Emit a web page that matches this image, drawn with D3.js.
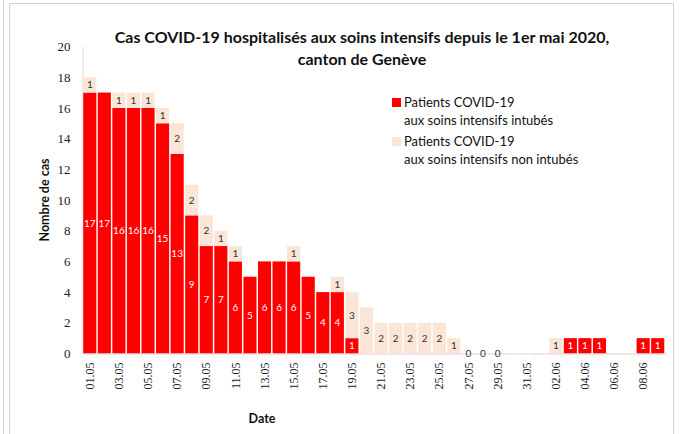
<!DOCTYPE html>
<html>
<head>
<meta charset="utf-8">
<script src="https://cdn.jsdelivr.net/npm/d3@7"></script>
<style>
  body { margin: 0; background: #fff; }
  svg { display: block; }
  .sans { font-family: Lato, "Open Sans", sans-serif; }
  .serif { font-family: "Liberation Serif", "DejaVu Serif", serif; }
</style>
</head>
<body>
<div id="chart"></div>
<script>
const width = 680;
const height = 434;

// Données (01.05 -> 09.06)
const dates = ["01.05","02.05","03.05","04.05","05.05","06.05","07.05","08.05","09.05","10.05",
  "11.05","12.05","13.05","14.05","15.05","16.05","17.05","18.05","19.05","20.05",
  "21.05","22.05","23.05","24.05","25.05","26.05","27.05","28.05","29.05","30.05",
  "31.05","01.06","02.06","03.06","04.06","05.06","06.06","07.06","08.06","09.06"];
const intubes = [17,17,16,16,16,15,13,9,7,7, 6,5,6,6,6,5,4,4,1,0, 0,0,0,0,0,0,0,0,0,0, 0,null,0,1,1,1,null,null,1,1];
const nonIntubes = [1,null,1,1,1,1,2,2,2,1, 1,null,null,null,1,null,null,1,3,3, 2,2,2,2,2,1,0,0,0,null, null,null,1,null,null,null,null,null,null,null];
const yTicks = [0,2,4,6,8,10,12,14,16,18,20];
const tickDates = dates.filter((d, i) => i % 2 === 0);
const legendLabels = [
  ["Patients COVID-19", "aux soins intensifs intubés"],
  ["Patients COVID-19", "aux soins intensifs non intubés"]
];

const RED = "#ff0000";
const PALE = "#fbe5d6";

const svg = d3.select("#chart").append("svg")
  .attr("width", width).attr("height", height);

// cadre
svg.append("line").attr("x1", 3.5).attr("x2", 3.5).attr("y1", 0).attr("y2", height)
  .attr("stroke", "#d0d0d0");
svg.append("path").attr("d", `M9.5,${height} V3.5 H673.5 V${height}`)
  .attr("fill", "none").attr("stroke", "#d0d0d0");

const x = d3.scaleBand().domain(dates).range([82.5, 665]).paddingInner(0.1).paddingOuter(0.05);
const y = d3.scaleLinear().domain([0, 20]).range([353.5, 46.5]);

// axe Y
const yAxis = svg.append("g").attr("transform", "translate(82.5,0)")
  .call(d3.axisLeft(y).tickValues(yTicks).tickSize(0).tickPadding(12));
yAxis.select(".domain").attr("stroke", "#d9d9d9");
yAxis.selectAll("text").attr("class", "serif").style("font-size", "13px").attr("fill", "#222");

// barres
const rows = dates.map((d, i) => ({ date: d, a: intubes[i], b: nonIntubes[i] }));

svg.append("g").selectAll("rect").data(rows.filter(r => r.a)).join("rect")
  .attr("x", r => x(r.date)).attr("width", x.bandwidth())
  .attr("y", r => y(r.a)).attr("height", r => y(0) - y(r.a))
  .attr("fill", RED);

svg.append("g").selectAll("rect").data(rows.filter(r => r.b)).join("rect")
  .attr("x", r => x(r.date)).attr("width", x.bandwidth())
  .attr("y", r => y((r.a || 0) + r.b)).attr("height", r => y(0) - y(r.b))
  .attr("fill", PALE);

// axe X
const xAxis = svg.append("g").attr("transform", "translate(0,353.5)")
  .call(d3.axisBottom(x).tickValues(tickDates).tickSize(0).tickPadding(0));
xAxis.select(".domain").attr("stroke", "#e6d0d0").attr("d", "M82.5,0.5H667");
xAxis.selectAll("text")
  .attr("class", "serif").style("font-size", "12px").attr("fill", "#222")
  .attr("text-anchor", "end")
  .attr("transform", "rotate(-90)")
  .attr("x", -9).attr("y", 0).attr("dy", "0.35em");

// étiquettes des valeurs (les 0 blancs sous une barre claire sont masqués)
const cx = r => x(r.date) + x.bandwidth() / 2;
svg.append("g").selectAll("text").data(rows.filter(r => r.a !== null && (r.a > 0 || r.b === null))).join("text")
  .attr("class", "sans")
  .attr("x", cx).attr("y", r => y(r.a / 2)).attr("dy", "0.35em")
  .attr("text-anchor", "middle").style("font-size", "10px").attr("fill", "#fff")
  .text(r => r.a);

svg.append("g").selectAll("text").data(rows.filter(r => r.b !== null)).join("text")
  .attr("class", "sans")
  .attr("x", cx).attr("y", r => y((r.a || 0) + r.b / 2)).attr("dy", "0.35em")
  .attr("text-anchor", "middle").style("font-size", "10px").attr("fill", "#333")
  .text(r => r.b);

// titre
const title = svg.append("text").attr("class", "sans")
  .attr("text-anchor", "middle")
  .style("font-size", "16px").style("font-weight", "bold").attr("fill", "#111");
title.append("tspan").attr("x", 362).attr("y", 43).text("Cas COVID-19 hospitalisés aux soins intensifs depuis le 1er mai 2020,");
title.append("tspan").attr("x", 362).attr("y", 65).text("canton de Genève");

// titres des axes
svg.append("text").attr("class", "sans")
  .attr("transform", "translate(49,200) rotate(-90)")
  .attr("text-anchor", "middle").style("font-size", "12.5px").style("font-weight", "bold")
  .attr("fill", "#111").text("Nombre de cas");

svg.append("text").attr("class", "sans")
  .attr("x", 262).attr("y", 423).attr("text-anchor", "middle")
  .style("font-size", "12.5px").style("font-weight", "bold").attr("fill", "#111").text("Date");

// légende
const legend = svg.append("g").attr("transform", "translate(392,98)");
[RED, PALE].forEach((c, i) => {
  const g = legend.append("g").attr("transform", `translate(0,${i * 39})`);
  g.append("rect").attr("width", 9).attr("height", 9).attr("fill", c);
  g.append("text").attr("class", "sans").attr("x", 12).attr("y", 9)
    .style("font-size", "13px").attr("fill", "#111").text(legendLabels[i][0]);
  g.append("text").attr("class", "sans").attr("x", 12).attr("y", 27)
    .style("font-size", "13px").attr("fill", "#111").text(legendLabels[i][1]);
});
</script>
</body>
</html>
